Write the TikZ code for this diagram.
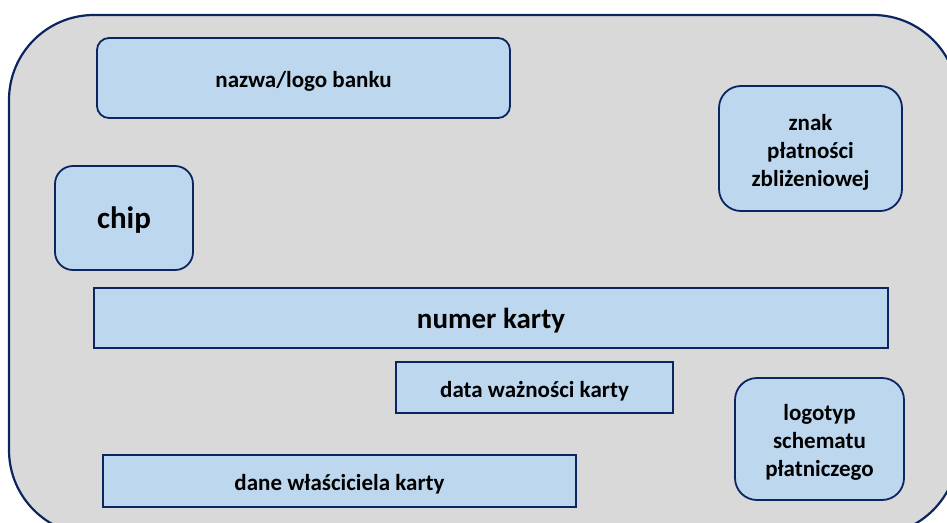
\documentclass[tikz,border=0pt]{standalone}
\usepackage{fontspec}
\setmainfont{Carlito}
\definecolor{navy}{RGB}{12,36,96}
\definecolor{cardgray}{HTML}{D9D9D9}
\definecolor{boxblue}{HTML}{BDD7EE}
\newcommand\lowtext[1]{\raisebox{-4pt}[\height][\depth]{\begin{tabular}{@{}c@{}}#1\end{tabular}}}
\begin{document}
\begin{tikzpicture}[x=1pt,y=-1pt,
  field/.style={draw=navy, fill=boxblue, line width=1.8pt, inner sep=0pt, align=center, font=\bfseries\fontsize{23}{28}\selectfont},
  roundfield/.style={field, rounded corners=#1},
  card/.style={draw=navy, fill=cardgray, line width=2.2pt, rounded corners=85pt}]
\useasboundingbox (0,0) rectangle (947,522);
\clip (0,0) rectangle (947,522);
\draw[card] (9,15) rectangle (958,535);
\node[roundfield=12pt, minimum width=413pt, minimum height=80pt] (bank) at (303.5,78) {\lowtext{nazwa/logo banku}};
\node[roundfield=22pt, minimum width=183pt, minimum height=125pt] (znak) at (810.5,148.5) {\lowtext{znak\\płatności\\zbliżeniowej}};
\node[roundfield=18pt, minimum width=138pt, minimum height=104pt, font=\bfseries\fontsize{31}{34}\selectfont] (chip) at (124,218) {\lowtext{chip}};
\node[field, minimum width=794pt, minimum height=60pt, font=\bfseries\fontsize{29}{32}\selectfont] (numer) at (491,318) {\lowtext{numer karty}};
\node[field, minimum width=277pt, minimum height=51pt] (data) at (534.5,387.5) {\lowtext{data ważności karty}};
\node[roundfield=22pt, minimum width=169pt, minimum height=122pt] (logo) at (819.5,439) {\lowtext{logotyp\\schematu\\płatniczego}};
\node[field, minimum width=473pt, minimum height=52pt] (dane) at (339.5,481) {\lowtext{dane właściciela karty}};
\end{tikzpicture}
\end{document}
